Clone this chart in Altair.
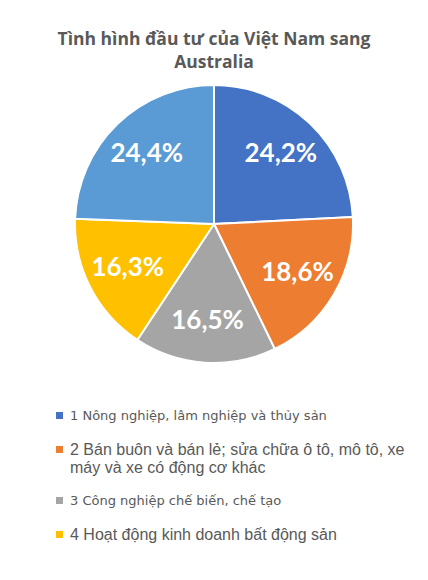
import altair as alt
import pandas as pd

# sectors (the 5th one is not visible in the legend of the source picture)
categories = [
    "1 Nông nghiệp, lâm nghiệp và thủy sản",
    "2 Bán buôn và bán lẻ; sửa chữa ô tô, mô tô, xe\nmáy và xe có động cơ khác",
    "3 Công nghiệp chế biến, chế tạo",
    "4 Hoạt động kinh doanh bất động sản",
    "5 Khác",
]
shares = [24.2, 18.6, 16.5, 16.3, 24.4]
colors = ["#4472C4", "#ED7D31", "#A5A5A5", "#FFC000", "#5B9BD5"]

df = pd.DataFrame({
    "category": categories,
    "share": shares,
    "order": list(range(1, len(categories) + 1)),
})

# items 2 and 4 use a bigger font in the original legend
even_item = "(substring(datum.label, 0, 1) == '2' || substring(datum.label, 0, 1) == '4')"

base = alt.Chart(df).transform_calculate(
    label="replace(format(datum.share, '.1f'), '.', ',') + '%'"
).encode(
    theta=alt.Theta("share:Q", stack=True),
    order=alt.Order("order:Q"),
    x=alt.value(206),
    y=alt.value(149),
)

pie = base.mark_arc(outerRadius=139, stroke="white", strokeWidth=2).encode(
    color=alt.Color(
        "category:N",
        scale=alt.Scale(domain=categories, range=colors),
        legend=alt.Legend(
            title=None,
            orient="none",
            legendX=45,
            legendY=334,
            values=categories[:4],
            symbolType="square",
            symbolSize=49,
            symbolStrokeWidth=0,
            labelFont={"expr": even_item + " ? 'Liberation Sans' : 'DejaVu Sans'"},
            labelColor="#595959",
            labelFontSize={"expr": even_item + " ? 16 : 13"},
            labelExpr="split(datum.label, '\\n')",
            labelLimit=400,
            labelOffset=4,
            rowPadding=18,
        ),
    ),
)

labels = base.mark_text(
    radius=97, font="Lato", fontSize=26, fontWeight="bold", color="white"
).encode(text="label:N")

chart = (
    (pie + labels)
    .properties(
        width=412,
        height=564,
        autosize=alt.AutoSizeParams(type="fit", contains="padding"),
        padding={"top": 22, "left": 0, "right": 0, "bottom": 0},
        title=alt.TitleParams(
            text=["Tình hình đầu tư của Việt Nam sang", "Australia"],
            font="Open Sans",
            fontSize=17.5,
            fontWeight="bold",
            color="#595959",
            lineHeight=23,
            anchor="middle",
            offset=4,
        ),
    )
    .configure_view(stroke=None)
)

chart.save("out.html", embed_options={"renderer": "svg", "actions": False})
